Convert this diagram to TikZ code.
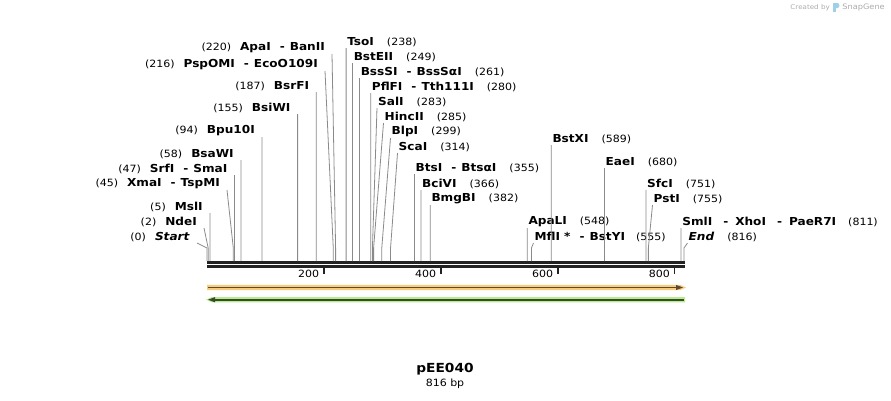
\documentclass[tikz,border=0pt]{standalone}
\usepackage{fontspec}
\setmainfont[FakeStretch=1.1]{DejaVu Sans}
\definecolor{siteg}{HTML}{8A8A8A}
\definecolor{bbk}{HTML}{222222}
\definecolor{orfill}{HTML}{F9CB7C}
\definecolor{ordark}{HTML}{5C4A30}
\definecolor{grfill}{HTML}{B6EE8C}
\definecolor{grdark}{HTML}{3A4A30}
\definecolor{logog}{HTML}{ABABAB}
\definecolor{logob}{HTML}{9FD0EA}
\newcommand\namefont{\fontsize{11}{12}\selectfont\bfseries}
\newcommand\bpn[1]{{\fontsize{10}{11}\selectfont\mdseries #1}}
\newcommand\dsh{\hspace{9pt}-\hspace{5pt}}
\newcommand\ngap{\hspace{13pt}}
\tikzset{
  lft/.style={anchor=south east, inner xsep=7pt, inner ysep=1pt, font=\namefont},
  rgt/.style={anchor=south west, inner xsep=1pt, inner ysep=1pt, font=\namefont},
  siteln/.style={draw=siteg, line width=0.8pt},
  bbline/.style={draw=bbk, line width=2.4pt},
  tickln/.style={draw=bbk, line width=1.6pt},
  ticklbl/.style={anchor=east, inner sep=0pt, font=\fontsize{10}{12}\selectfont}
}
\begin{document}
\begin{tikzpicture}[x=1pt,y=-1pt]
\useasboundingbox (0,0) rectangle (891,400);
% site coordinates on the backbone
\foreach \p in {0,2,5,45,47,58,94,155,187,216,220,238,249,261,280,283,285,299,314,355,366,382,548,555,589,680,751,755,811,816}{
  \coordinate (s\p) at ({207+\p*0.584559},261);
  \coordinate (k\p) at ({207+\p*0.584559},248);
}
% backbone
\coordinate (bbA) at (207,262.3);
\coordinate (bbB) at (685,262.3);
\coordinate (bbC) at (207,266.3);
\coordinate (bbD) at (685,266.3);
\draw[bbline] (bbA) -- (bbB);
\draw[bbline] (bbC) -- (bbD);
% ticks
\foreach \t in {200,400,600,800}{
  \coordinate (t\t) at ({207+\t*0.584559},266);
  \draw[tickln] (t\t) -- ++(0,8);
  \node[ticklbl] (tl\t) at ({207+\t*0.584559-4.5},274) {\t};
}
% left labels
\node[lft] (l220) at (332,54) {\bpn{(220)}\hspace{9pt}ApaI\dsh BanII};
\node[lft] (l216) at (325,71) {\bpn{(216)}\hspace{9pt}PspOMI\dsh EcoO109I};
\node[lft] (l187) at (316.3,92) {\bpn{(187)}\hspace{9pt}BsrFI};
\node[lft] (l155) at (297.6,114) {\bpn{(155)}\hspace{9pt}BsiWI};
\node[lft] (l94) at (262,137) {\bpn{(94)}\hspace{9pt}Bpu10I};
\node[lft] (l58) at (240.9,160) {\bpn{(58)}\hspace{9pt}BsaWI};
\node[lft] (l47) at (234.5,175) {\bpn{(47)}\hspace{9pt}SrfI\dsh SmaI};
\node[lft] (l45) at (227,190) {\bpn{(45)}\hspace{9pt}XmaI\dsh TspMI};
\node[lft] (l5) at (209.9,213) {\bpn{(5)}\hspace{9pt}MslI};
\node[lft] (l2) at (204,228) {\bpn{(2)}\hspace{9pt}NdeI};
\node[lft] (l0) at (197,243) {\bpn{(0)}\hspace{9pt}\textit{Start}};
% right labels
\node[rgt] (r238) at (346.12,48) {TsoI\ngap\bpn{(238)}};
\node[rgt] (r249) at (352.55,63) {BstEII\ngap\bpn{(249)}};
\node[rgt] (r261) at (359.57,78) {BssSI\dsh BssSαI\ngap\bpn{(261)}};
\node[rgt] (r280) at (370.68,93) {PflFI\dsh Tth111I\ngap\bpn{(280)}};
\node[rgt] (r283) at (377,108) {SalI\ngap\bpn{(283)}};
\node[rgt] (r285) at (383.5,123) {HincII\ngap\bpn{(285)}};
\node[rgt] (r299) at (390.5,138) {BlpI\ngap\bpn{(299)}};
\node[rgt] (r314) at (397.5,153) {ScaI\ngap\bpn{(314)}};
\node[rgt] (r355) at (414.52,174) {BtsI\dsh BtsαI\ngap\bpn{(355)}};
\node[rgt] (r366) at (420.95,190) {BciVI\ngap\bpn{(366)}};
\node[rgt] (r382) at (430.30,205) {BmgBI\ngap\bpn{(382)}};
\node[rgt] (r548) at (527.34,228) {ApaLI\ngap\bpn{(548)}};
\node[rgt] (r555) at (533.5,243) {MflI\hspace{4pt}*\dsh BstYI\hspace{11pt}\bpn{(555)}};
\node[rgt] (r589) at (551.31,145) {BstXI\ngap\bpn{(589)}};
\node[rgt] (r680) at (604.50,168) {EaeI\ngap\bpn{(680)}};
\node[rgt] (r751) at (646.00,190) {SfcI\ngap\bpn{(751)}};
\node[rgt] (r755) at (652.5,205) {PstI\ngap\bpn{(755)}};
\node[rgt] (r811) at (681.08,228) {SmlI\hspace{11pt}-\hspace{7pt}XhoI\hspace{11pt}-\hspace{7pt}PaeR7I\hspace{12pt}\bpn{(811)}};
\node[rgt] (r816) at (687.5,243) {\textit{End}\ngap\bpn{(816)}};
% site connectors
\foreach \n/\p in {l220/220,l216/216,l187/187,l155/155,l94/94,l58/58,l47/47,l45/45,l5/5,l2/2,l0/0}
  \draw[siteln] (\n.south east) -- (k\p) -- (s\p);
\foreach \n/\p in {r238/238,r249/249,r261/261,r280/280,r283/283,r285/285,r299/299,r314/314,r355/355,r366/366,r382/382,r548/548,r555/555,r589/589,r680/680,r751/751,r755/755,r811/811,r816/816}
  \draw[siteln] (\n.south west) -- (k\p) -- (s\p);
% features
\fill[orfill] (207,284.8) -- (680,284.8) -- (686,287.5) -- (680,290.2) -- (207,290.2) -- cycle;
\draw[ordark, line width=1.6pt] (208,287.5) -- (678,287.5);
\fill[ordark] (676,284.9) -- (683,287.5) -- (676,290.1) -- cycle;
\fill[grfill] (206,299.7) -- (212,297) -- (685,297) -- (685,302.4) -- (212,302.4) -- cycle;
\draw[grdark, line width=1.6pt] (212,299.7) -- (684,299.7);
\fill[grdark] (208,299.7) -- (215,297.1) -- (215,302.3) -- cycle;
% title
\node[font=\fontsize{12.5}{14}\selectfont\bfseries, inner sep=0pt] (title) at (445,369) {pEE040};
\node[font=\fontsize{10}{12}\selectfont, inner sep=0pt] (len) at (445,384) {816 bp};
% logo
\node[font=\fontsize{7.5}{9}\selectfont, text=logog, anchor=east, inner sep=0pt] (sg) at (885,7.5) {SnapGene};
\fill[logob] (833,3) rectangle (835.5,12);
\fill[logob] (835.5,3) -- (837.5,3) .. controls (840,3) and (840,8) .. (837.5,8) -- (835.5,8) -- cycle;
\node[font=\fontsize{6.5}{8}\selectfont, text=logog, anchor=east, inner sep=0pt] (cby) at (830,7.5) {Created by};
\end{tikzpicture}
\end{document}
